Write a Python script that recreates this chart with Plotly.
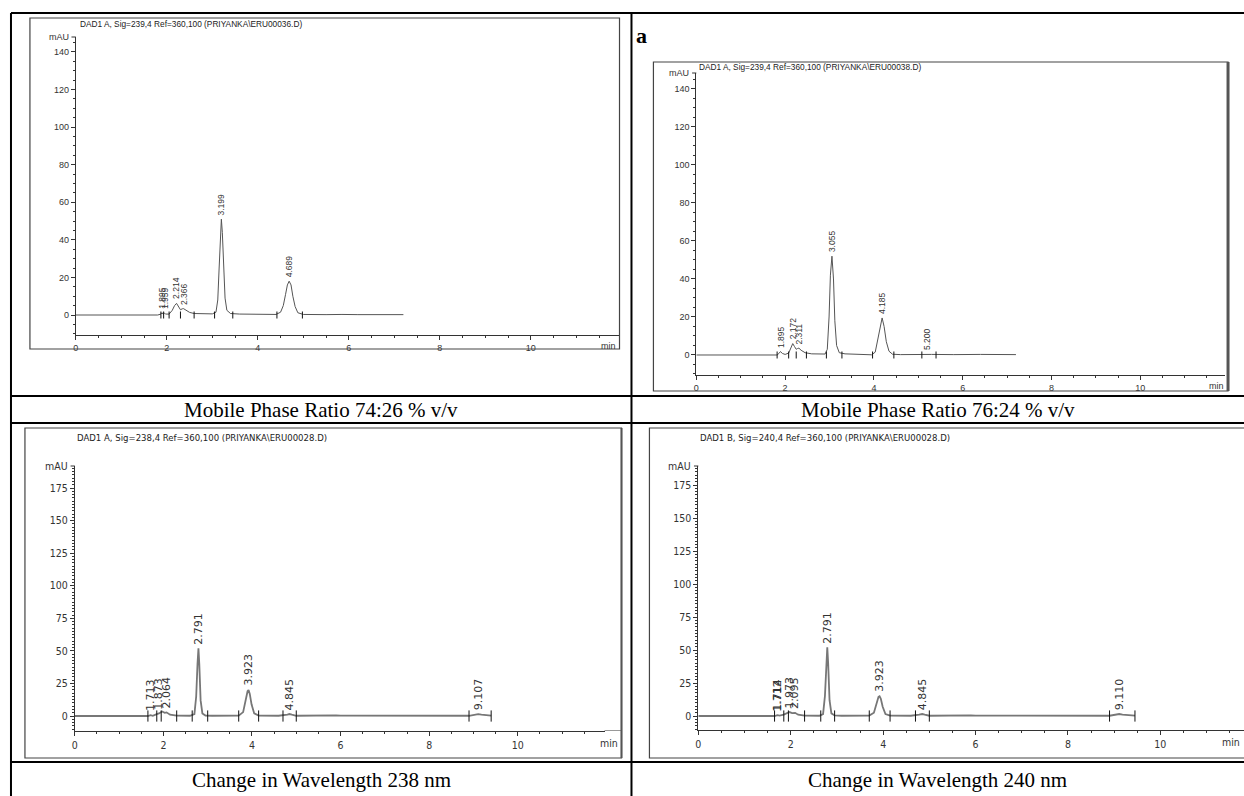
import plotly.graph_objects as go

W, H = 1244, 796

# ---------------- data ----------------
# Panel 1: Mobile phase 74:26
p1_time = [0, 1.80, 1.87, 1.895, 1.92, 1.95, 1.97, 2.05, 2.12, 2.17, 2.214, 2.26, 2.30, 2.34, 2.366, 2.42, 2.50,
           2.60, 2.80, 3.00, 3.08, 3.12, 3.15, 3.175, 3.199, 3.22, 3.25, 3.28, 3.32, 3.40, 3.60, 4.00, 4.40, 4.50,
           4.56, 4.61, 4.65, 4.689, 4.73, 4.77, 4.82, 4.88, 5.00, 5.50, 5.75, 5.80, 5.85, 6.20, 7.20]
p1_mau = [0, 0, 0.5, 1.2, 0.4, 1.0, 0.5, 0.5, 2.5, 5.0, 6.2, 4.2, 2.8, 3.3, 3.4, 2.6, 1.4,
          0.8, 0.6, 0.6, 1.5, 8, 25, 44, 51, 44, 24, 9, 2.5, 0.8, 0.5, 0.3, 0.3, 1.5,
          5, 11, 16, 18, 16, 10, 4.5, 1.2, 0.3, 0.2, 0.4, 0.5, 0.3, 0.2, 0.2]
p1_peak_rt = [1.895, 1.959, 2.214, 2.366, 3.199, 4.689]
p1_peak_h = [1.2, 1.0, 6.2, 3.4, 51, 18]
p1_marks = [1.87, 1.93, 2.05, 2.30, 2.60, 3.05, 3.45, 4.42, 4.98]

# Panel 2: Mobile phase 76:24
p2_time = [0, 1.82, 1.86, 1.895, 1.94, 2.00, 2.08, 2.13, 2.172, 2.21, 2.25, 2.28, 2.311, 2.36, 2.45, 2.60,
           2.90, 2.95, 2.99, 3.02, 3.055, 3.09, 3.12, 3.16, 3.22, 3.35, 3.60, 3.95, 4.03, 4.09, 4.14, 4.185,
           4.23, 4.28, 4.34, 4.42, 4.60, 5.10, 5.20, 5.30, 5.80, 6.20, 6.28, 6.40, 7.20]
p2_mau = [0, 0, 0.8, 1.8, 0.8, 0.3, 1.0, 3.8, 6.0, 4.5, 3.0, 3.4, 3.6, 2.5, 1.2, 0.6,
          0.5, 3, 20, 42, 52, 40, 18, 5, 1.2, 0.6, 0.3, 0.1, 1.5, 8, 15, 19.5,
          15, 7, 2, 0.4, 0.2, 0.3, 0.6, 0.3, 0.2, 0.3, 0.6, 0.3, 0.2]
p2_peak_rt = [1.895, 2.172, 2.311, 3.055, 4.185, 5.200]
p2_peak_h = [1.8, 6.0, 3.6, 52, 19.5, 0.6]
p2_marks = [1.82, 2.08, 2.25, 2.48, 2.93, 3.28, 3.97, 4.45, 5.08, 5.40]

# Panel 3: wavelength 238 nm
p3_time = [0, 1.65, 1.71, 1.76, 1.85, 1.90, 1.97, 2.03, 2.07, 2.15, 2.30, 2.60, 2.70, 2.74, 2.77, 2.791, 2.81,
           2.84, 2.88, 2.95, 3.10, 3.70, 3.80, 3.86, 3.90, 3.923, 3.95, 3.99, 4.05, 4.15, 4.60, 4.80, 4.845,
           4.90, 5.00, 5.90, 6.00, 8.90, 9.05, 9.107, 9.18, 9.40]
p3_mau = [0, 0, 0.6, 0.2, 1.5, 2.0, 3.5, 2.5, 2.8, 1.0, 0.3, 0.2, 1.5, 15, 40, 52, 40,
          12, 2, 0.4, 0.2, 0.3, 3, 13, 19, 20, 17, 9, 2, 0.3, 0.2, 1, 1.5,
          1, 0.2, 0.5, 0.3, 0.2, 1.2, 1.5, 1.0, 0.3]
p3_peak_rt = [1.713, 1.873, 2.064, 2.791, 3.923, 4.845, 9.107]
p3_peak_h = [0.6, 1.5, 2.8, 52, 20, 1.5, 1.5]
p3_marks = [1.65, 1.85, 1.95, 2.30, 2.65, 3.00, 3.70, 4.15, 4.70, 5.00, 8.90, 9.40]

# Panel 4: wavelength 240 nm
p4_time = [0, 1.65, 1.712, 1.76, 1.85, 1.92, 1.973, 2.03, 2.095, 2.16, 2.30, 2.62, 2.70, 2.74, 2.77, 2.791,
           2.81, 2.84, 2.88, 2.95, 3.10, 3.70, 3.80, 3.86, 3.90, 3.923, 3.95, 3.99, 4.05, 4.15, 4.60, 4.78,
           4.845, 4.90, 5.00, 5.90, 6.00, 8.90, 9.05, 9.110, 9.18, 9.45]
p4_mau = [0, 0, 0.6, 0.3, 1.0, 2.0, 3.0, 2.2, 2.4, 1.0, 0.3, 0.2, 1.5, 15, 40, 52,
          40, 12, 2, 0.4, 0.2, 0.3, 2.5, 10, 14.5, 15, 13, 7, 1.5, 0.3, 0.2, 1,
          1.5, 1, 0.2, 0.5, 0.3, 0.2, 1.2, 1.5, 1.0, 0.3]
p4_peak_rt = [1.712, 1.714, 1.973, 2.095, 2.791, 3.923, 4.845, 9.110]
p4_peak_h = [0.6, 0.6, 3.0, 2.4, 52, 15, 1.5, 1.5]
p4_marks = [1.65, 1.85, 1.95, 2.30, 2.65, 2.95, 3.70, 4.15, 4.70, 5.00, 8.90, 9.45]

headers = [
    "DAD1 A, Sig=239,4 Ref=360,100 (PRIYANKA\\ERU00036.D)",
    "DAD1 A, Sig=239,4 Ref=360,100 (PRIYANKA\\ERU00038.D)",
    "DAD1 A, Sig=238,4 Ref=360,100 (PRIYANKA\\ERU00028.D)",
    "DAD1 B, Sig=240,4 Ref=360,100 (PRIYANKA\\ERU00028.D)",
]
captions = [
    "Mobile Phase Ratio 74:26 % v/v",
    "Mobile Phase Ratio 76:24 % v/v",
    "Change in Wavelength 238 nm",
    "Change in Wavelength 240 nm",
]
x_unit = "min"
y_unit = "mAU"

# ---------------- layout helpers ----------------
def px(x):
    return x / W


def py(y):
    return 1 - y / H


SANS = "Liberation Sans, Arial, sans-serif"
NARROW = "Liberation Sans Narrow, Arial Narrow, DejaVu Sans Condensed, Liberation Sans, sans-serif"

panels = [
    dict(t=p1_time, y=p1_mau, rt=p1_peak_rt, h=p1_peak_h, marks=p1_marks,
         xd=(73, 618), xr=(0, 11.95), yd=(37, 335), yr=(-10.64, 147.95), dt=20, mdt=5,
         frame=(27, 18, 618, 349), head=(75, 24), font=SANS, fs=9, hfs=8.3, lfs=8.5,
         lfont=SANS, lw=1.0, lc="#555", mark_size=5, unit_x=616),
    dict(t=p2_time, y=p2_mau, rt=p2_peak_rt, h=p2_peak_h, marks=p2_marks,
         xd=(695, 1225), xr=(0, 11.91), yd=(73, 375), yr=(-10.53, 148.4), dt=20, mdt=5,
         frame=(652, 62, 1228, 391), head=(696, 67), font=SANS, fs=9, hfs=8.3, lfs=8.5,
         lfont=SANS, lw=1.0, lc="#555", mark_size=5, unit_x=1226),
    dict(t=p3_time, y=p3_mau, rt=p3_peak_rt, h=p3_peak_h, marks=p3_marks,
         xd=(72, 603), xr=(0, 11.96), yd=(466, 731), yr=(-11.5, 191.9), dt=25, mdt=2.5,
         frame=(22, 428, 620, 758), head=(72, 437), font=NARROW, fs=10.5, hfs=9.5, lfs=11,
         lfont="DejaVu Sans", lw=1.8, lc="#777", mark_size=8, unit_x=618),
    dict(t=p4_time, y=p4_mau, rt=p4_peak_rt, h=p4_peak_h, marks=p4_marks,
         xd=(697, 1244), xr=(0, 11.81), yd=(466, 730), yr=(-10.6, 189.4), dt=25, mdt=2.5,
         frame=(648, 428, 1252, 758), head=(697, 437), font=NARROW, fs=10.5, hfs=9.5, lfs=11,
         lfont="DejaVu Sans", lw=1.8, lc="#777", mark_size=8, unit_x=1242),
]

fig = go.Figure()
shapes = []
annotations = []
layout_axes = {}

for i, p in enumerate(panels, start=1):
    xa = "x" if i == 1 else f"x{i}"
    ya = "y" if i == 1 else f"y{i}"
    xk = "xaxis" if i == 1 else f"xaxis{i}"
    yk = "yaxis" if i == 1 else f"yaxis{i}"

    fig.add_trace(go.Scatter(x=p["t"], y=p["y"], mode="lines", xaxis=xa, yaxis=ya,
                             line=dict(color=p["lc"], width=p["lw"]), hoverinfo="skip",
                             showlegend=False))
    fig.add_trace(go.Scatter(x=p["marks"], y=[0] * len(p["marks"]), mode="markers", xaxis=xa, yaxis=ya,
                             marker=dict(symbol="line-ns", size=p["mark_size"],
                                         line=dict(color="#111", width=1)),
                             hoverinfo="skip", showlegend=False))

    tickfont = dict(family=p["font"], size=p["fs"], color="#333")
    layout_axes[xk] = dict(domain=[px(p["xd"][0]), px(p["xd"][1])], range=list(p["xr"]), anchor=ya,
                           showline=True, linecolor="#333", linewidth=1, ticks="outside", ticklen=4,
                           tickcolor="#333", tick0=0, dtick=2, showgrid=False, zeroline=False,
                           tickfont=tickfont, fixedrange=True,
                           minor=dict(dtick=0.5, ticklen=2, ticks="outside", tickcolor="#333", showgrid=False))
    layout_axes[yk] = dict(domain=[py(p["yd"][1]), py(p["yd"][0])], range=list(p["yr"]), anchor=xa,
                           showline=True, linecolor="#333", linewidth=1, ticks="outside", ticklen=4,
                           tickcolor="#333", tick0=0, dtick=p["dt"], showgrid=False, zeroline=False,
                           tickfont=tickfont, fixedrange=True,
                           minor=dict(dtick=p["mdt"], ticklen=2, ticks="outside", tickcolor="#333",
                                      showgrid=False))

    # frame
    fx0, fy0, fx1, fy1 = p["frame"]
    shapes.append(dict(type="rect", xref="paper", yref="paper", x0=px(fx0), x1=px(fx1), y0=py(fy1), y1=py(fy0),
                       line=dict(color="#444", width=1.2)))
    # bracket at top of y axis
    shapes.append(dict(type="line", xref=f"{xa} domain", yref=f"{ya} domain", x0=-0.008, x1=0, y0=1, y1=1,
                       line=dict(color="#333", width=1)))
    # header
    annotations.append(dict(text=headers[i - 1], xref="paper", yref="paper", x=px(p["head"][0]),
                            y=py(p["head"][1]), xanchor="left", yanchor="middle", showarrow=False,
                            font=dict(family=p["font"], size=p["hfs"], color="#222")))
    # unit labels
    annotations.append(dict(text=y_unit, xref=f"{xa} domain", yref=f"{ya} domain", x=0, y=1,
                            xanchor="right", yanchor="middle", xshift=-5, showarrow=False,
                            font=dict(family=p["font"], size=p["fs"], color="#333")))
    annotations.append(dict(text=x_unit, xref="paper", yref=f"{ya} domain", x=px(p["unit_x"]), y=0,
                            xanchor="right", yanchor="top", yshift=-4, showarrow=False,
                            font=dict(family=p["font"], size=p["fs"], color="#333")))
    # peak labels
    for rt, h in zip(p["rt"], p["h"]):
        annotations.append(dict(text=f"{rt:.3f}", x=rt, y=h, xref=xa, yref=ya, textangle=-90,
                                xanchor="center", yanchor="bottom", yshift=2, showarrow=False,
                                font=dict(family=p["lfont"], size=p["lfs"], color="#333")))

# extend bottom-left x axis line to the frame
shapes.append(dict(type="line", xref="paper", yref="y3", x0=px(603), x1=px(620), y0=-11.5, y1=-11.5,
                   line=dict(color="#333", width=1)))

# Right-panel thick edges
shapes.append(dict(type="line", xref="paper", yref="paper", x0=px(1228), x1=px(1228), y0=py(391), y1=py(62),
                   line=dict(color="#555", width=3)))
shapes.append(dict(type="line", xref="paper", yref="paper", x0=px(620), x1=px(620), y0=py(758), y1=py(428),
                   line=dict(color="#555", width=2)))

# Table rules
rules = [
    (8, 13, 1244, 13), (8, 13, 8, 796), (630, 13, 630, 796),
    (8, 396, 1244, 396), (8, 423, 1244, 423), (8, 762, 1244, 762),
]
for x0, y0, x1, y1 in rules:
    shapes.append(dict(type="line", xref="paper", yref="paper", x0=px(x0), x1=px(x1), y0=py(y0), y1=py(y1),
                       line=dict(color="black", width=2)))

# Captions
cap_pos = [(319, 410), (937, 410), (319, 780), (937, 780)]
for txt, (cx, cy) in zip(captions, cap_pos):
    annotations.append(dict(text=txt, xref="paper", yref="paper", x=px(cx), y=py(cy), xanchor="center",
                            yanchor="middle", showarrow=False,
                            font=dict(family="Liberation Serif", size=21, color="black")))

annotations.append(dict(text="<b>a</b>", xref="paper", yref="paper", x=px(633), y=py(36), xanchor="left",
                        yanchor="middle", showarrow=False,
                        font=dict(family="Liberation Serif", size=22, color="black")))

fig.update_layout(width=W, height=H, margin=dict(l=0, r=0, t=0, b=0), autosize=False,
                  paper_bgcolor="white", plot_bgcolor="white", showlegend=False,
                  shapes=shapes, annotations=annotations, **layout_axes)

fig.write_html("out.html")
